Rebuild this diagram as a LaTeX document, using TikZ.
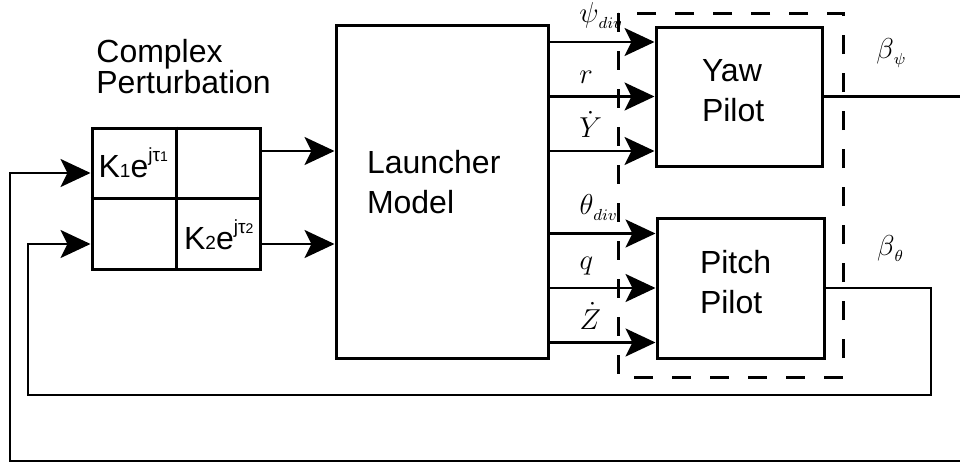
\documentclass[tikz,border=0pt]{standalone}
\usepackage{fontspec}
\setmainfont{Liberation Sans}
\usetikzlibrary{arrows.meta,calc}
\newcommand{\lsub}[1]{\raisebox{-3pt}{\fontsize{8.5}{9}\selectfont$#1$}}

\begin{document}
\begin{tikzpicture}[x=0.5pt,y=-0.5pt,line width=1.4pt,>={Stealth[length=15pt,width=14pt,inset=3.5pt]},
    blk/.style={draw,line width=1.5pt,align=left,font=\fontsize{16}{20}\selectfont},
    sig/.style={font=\fontsize{15}{17}\selectfont,inner sep=0pt,anchor=south west}]
  \useasboundingbox (0,0) rectangle (960,466);
  \draw[line width=1.5pt,dash pattern=on 9.5pt off 9.5pt] (618,13) rectangle (843,377);
  \node[font=\fontsize{16}{15.5}\selectfont,align=left,anchor=south west,inner sep=0pt] (title) at (95,95) {Complex\\Perturbation};
  \node[blk,minimum width=84pt,minimum height=70.5pt] (pert) at (176,198.5) {};
  \draw[line width=1.5pt] (pert.north)--(pert.south) (pert.west)--(pert.east);
  \node[font=\fontsize{16}{16}\selectfont,inner sep=0pt] (k1) at ($(pert.center)!0.5!(pert.north west)$)
    {K{\fontsize{9.5}{9}\selectfont1}e\raisebox{8pt}{\fontsize{9.5}{9}\selectfont jτ{\fontsize{7}{7}\selectfont1}}};
  \node[font=\fontsize{16}{16}\selectfont,inner sep=0pt] (k2) at ($(pert.center)!0.5!(pert.south east)$)
    {K{\fontsize{9.5}{9}\selectfont2}e\raisebox{8pt}{\fontsize{9.5}{9}\selectfont jτ{\fontsize{7}{7}\selectfont2}}};
  \node[blk,minimum width=106pt,minimum height=166.5pt,text depth=30pt,text width=75pt] (launch) at (442,191.5) {Launcher\\Model};
  \node[blk,minimum width=83pt,minimum height=69.5pt,text depth=26pt,text width=37pt] (yaw) at (739,96.5) {Yaw\\Pilot};
  \node[blk,minimum width=83.5pt,minimum height=70pt,text depth=26pt,text width=40.5pt] (pitch) at (740.5,288) {Pitch\\Pilot};
  \foreach \n/\d in {ua/23.75,ub/-22.75}{
    \coordinate (\n) at ([yshift=\d pt]pert.east);
    \draw[->] (\n) -- (launch.west |- \n);
  }
  \foreach \n/\d/\lab in {ya/27.25/{$\psi$\lsub{div}},yb/0/{$r$},yc/-27.25/{$\dot{Y}$}}{
    \coordinate (\n) at ([yshift=\d pt]yaw.west);
    \draw[->] (launch.east |- \n) -- (\n) node[sig,pos=0.27,yshift=6pt] {\lab};
  }
  \foreach \n/\d/\lab in {pa/27.25/{$\theta$\lsub{div}},pb/0/{$q$},pc/-27.25/{$\dot{Z}$}}{
    \coordinate (\n) at ([yshift=\d pt]pitch.west);
    \draw[->] (launch.east |- \n) -- (\n) node[sig,pos=0.27,yshift=6pt] {\lab};
  }
  \coordinate (bpsi) at (960,96.5);
  \coordinate (bth) at (931,288);
  \coordinate (outer) at (960,461);
  \coordinate (fa) at ([yshift=12.75pt]pert.west);
  \coordinate (fb) at ([yshift=-22.75pt]pert.west);
  \draw (yaw.east) -- (bpsi) node[sig,pos=0.377,yshift=13.5pt] {$\beta$\lsub{\psi}};
  \draw[->] (pitch.east) -- (bth) node[sig,pos=0.477,yshift=12.5pt] {$\beta$\lsub{\theta}} |- (28,395) |- (fb);
  \draw[->] (outer) -| (10,300) |- (fa);
\end{tikzpicture}
\end{document}
